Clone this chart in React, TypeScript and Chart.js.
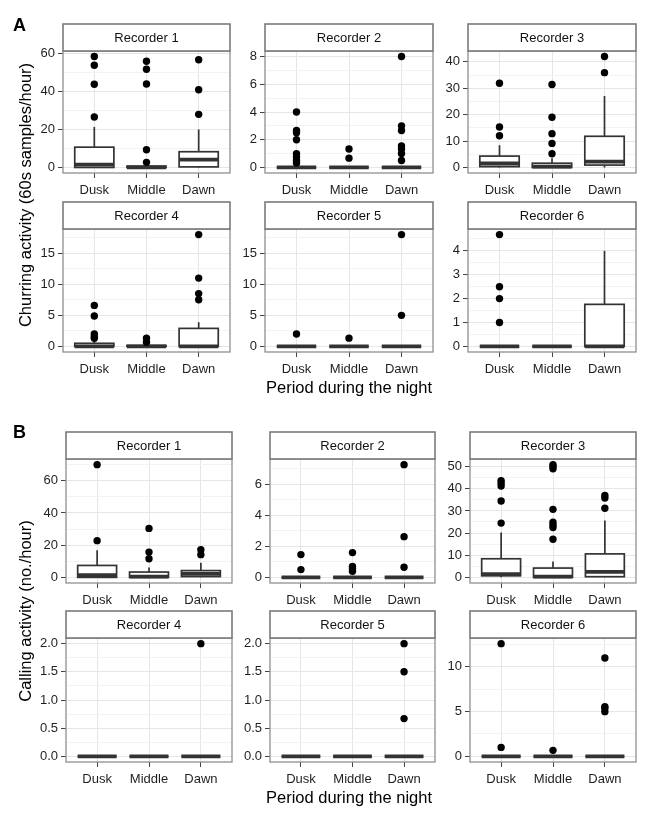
import React, { useEffect, useRef } from 'react';
import { Chart, registerables } from 'chart.js';

Chart.register(...registerables);

const FONT = "'Liberation Sans', Arial, Helvetica, sans-serif";

// ---------- categories ----------
const periods = ['Dusk', 'Middle', 'Dawn'];
const recorders = ['Recorder 1', 'Recorder 2', 'Recorder 3', 'Recorder 4', 'Recorder 5', 'Recorder 6'];

// ---------- A: churring activity (60s samples/hour) ----------
// per recorder: [Dusk, Middle, Dawn]
const churringWhiskerLow = [[0, 0, 0], [0, 0, 0], [0, 0, 0], [0, 0, 0], [0, 0, 0], [0, 0, 0]];
const churringQ1 = [[0, 0, 0.3], [0, 0, 0], [0.3, 0, 0.9], [0, 0, 0], [0, 0, 0], [0, 0, 0]];
const churringMedian = [[1.5, 0, 4.1], [0, 0, 0], [1.5, 0.3, 2.2], [0, 0, 0], [0, 0, 0], [0, 0, 0]];
const churringQ3 = [[10.7, 0.7, 8.3], [0, 0, 0], [4.3, 1.6, 11.8], [0.5, 0.15, 2.9], [0, 0, 0], [0, 0, 1.76]];
const churringWhiskerHigh = [[21.4, 1.5, 20], [0, 0, 0], [8.4, 3.5, 27.1], [1.0, 0.3, 3.9], [0, 0, 0], [0, 0, 4.0]];
const churringOutliers = [
  [[26.6, 43.9, 53.9, 58.5], [2.7, 9.3, 44, 51.8, 56], [28, 41, 56.8]],
  [[0.33, 0.5, 0.75, 1, 2, 2.5, 2.67, 4], [0.67, 1.33], [0.5, 1, 1.33, 1.56, 2.67, 3, 8]],
  [[12, 15.3, 31.9], [5.2, 9.1, 12.8, 19, 31.4], [35.9, 42]],
  [[1.3, 1.6, 2, 4.9, 6.6], [0.67, 1.33], [7.5, 8.5, 11, 18]],
  [[2], [1.33], [5, 18]],
  [[1, 2, 2.5, 4.68], [], []],
];
const churringTicks = [[0, 20, 40, 60], [0, 2, 4, 6, 8], [0, 10, 20, 30, 40], [0, 5, 10, 15], [0, 5, 10, 15], [0, 1, 2, 3, 4]];

// ---------- B: calling activity (no./hour) ----------
const callingWhiskerLow = [[0, 0, 0], [0, 0, 0], [0, 0, 0], [0, 0, 0], [0, 0, 0], [0, 0, 0]];
const callingQ1 = [[0, 0, 0.5], [0, 0, 0], [0.7, 0, 0.3], [0, 0, 0], [0, 0, 0], [0, 0, 0]];
const callingMedian = [[1.4, 0.4, 2.2], [0, 0, 0], [1.5, 0.3, 2.5], [0, 0, 0], [0, 0, 0], [0, 0, 0]];
const callingQ3 = [[7.4, 3.3, 4.2], [0, 0, 0], [8.4, 4.2, 10.6], [0, 0, 0], [0, 0, 0], [0, 0, 0]];
const callingWhiskerHigh = [[16.8, 6.2, 9], [0, 0, 0], [20.3, 7.2, 25.7], [0, 0, 0], [0, 0, 0], [0, 0, 0]];
const callingOutliers = [
  [[22.8, 70], [11.6, 15.7, 30.4], [14.1, 17.2]],
  [[0.5, 1.47], [0.39, 0.56, 0.71, 1.6], [0.65, 2.63, 7.28]],
  [[24.5, 34.5, 41.2, 42.5, 43.7], [17.2, 22.5, 23.6, 24.9, 30.7, 49, 50.1, 50.9], [31.2, 35.8, 37]],
  [[], [], [2]],
  [[], [], [0.67, 1.5, 2]],
  [[1, 12.6], [0.67], [5, 5.37, 5.56, 11]],
];
const callingTicks = [[0, 20, 40, 60], [0, 2, 4, 6], [0, 10, 20, 30, 40, 50], [0, 0.5, 1, 1.5, 2], [0, 0.5, 1, 1.5, 2], [0, 5, 10]];

// ---------- layout (pixels) ----------
const STRIP_H = 27;
const Y_AXIS_W = 44;
const X_AXIS_H = 26;
const RIGHT_PAD = 4;
const layoutA = { cols: [[63, 167], [265, 168], [468, 168]], rows: [[51, 122], [229, 123]] };
const layoutB = { cols: [[66, 166], [270, 165], [470, 166]], rows: [[459, 124], [638, 124]] };

type PanelProps = {
  left: number; top: number; width: number; height: number; title: string;
  wl: number[]; q1: number[]; med: number[]; q3: number[]; wh: number[];
  outliers: number[][]; ticks: number[];
};

function Panel(p: PanelProps) {
  const ref = useRef<HTMLCanvasElement>(null);
  useEffect(() => {
    const canvas = ref.current as HTMLCanvasElement;
    const allVals = [0, ...p.wh, ...p.wl, ...p.outliers.flat()];
    const dMax = Math.max(...allVals);
    const dMin = Math.min(...allVals);
    const span = dMax - dMin || 1;
    const lo = dMin - 0.05 * span;
    const hi = dMax + 0.05 * span;
    const step = p.ticks[1] - p.ticks[0];
    const minors: number[] = [];
    p.ticks.forEach((t) => { if (t + step / 2 <= hi) minors.push(t + step / 2); });
    if (p.ticks[0] - step / 2 >= lo) minors.push(p.ticks[0] - step / 2);
    const allTicks = [...p.ticks, ...minors].sort((a, b) => a - b);
    const isMajor = (v: number) => p.ticks.some((t) => Math.abs(t - v) < 1e-9);
    const decimals = p.ticks.some((t) => !Number.isInteger(t)) ? 1 : 0;

    const points: { x: number; y: number }[] = [];
    p.outliers.forEach((arr, i) => arr.forEach((v) => points.push({ x: i + 1, y: v })));

    const boxPlugin = {
      id: 'ggbox',
      beforeDatasetsDraw(chart: any) {
        const { ctx, chartArea: a, scales } = chart;
        const x = scales.x, y = scales.y;
        ctx.save();
        ctx.beginPath();
        ctx.rect(a.left, a.top, a.right - a.left, a.bottom - a.top);
        ctx.clip();
        ctx.strokeStyle = '#333333';
        for (let i = 0; i < 3; i++) {
          const cx = x.getPixelForValue(i + 1);
          const x0 = x.getPixelForValue(i + 1 - 0.375);
          const x1 = x.getPixelForValue(i + 1 + 0.375);
          const yq1 = y.getPixelForValue(p.q1[i]);
          const yq3 = y.getPixelForValue(p.q3[i]);
          const ywl = y.getPixelForValue(p.wl[i]);
          const ywh = y.getPixelForValue(p.wh[i]);
          const ym = y.getPixelForValue(p.med[i]);
          ctx.lineWidth = 1.7;
          ctx.beginPath();
          ctx.moveTo(cx, ywh); ctx.lineTo(cx, yq3);
          ctx.moveTo(cx, yq1); ctx.lineTo(cx, ywl);
          ctx.stroke();
          ctx.fillStyle = '#ffffff';
          ctx.fillRect(x0, yq3, x1 - x0, yq1 - yq3);
          ctx.strokeRect(x0, yq3, x1 - x0, yq1 - yq3);
          ctx.lineWidth = 3.8;
          ctx.beginPath();
          ctx.moveTo(x0, ym); ctx.lineTo(x1, ym);
          ctx.stroke();
        }
        ctx.restore();
      },
      afterDraw(chart: any) {
        const { ctx, chartArea: a } = chart;
        ctx.save();
        ctx.strokeStyle = '#8f8f8f';
        ctx.lineWidth = 1.3;
        ctx.strokeRect(a.left, a.top, a.right - a.left, a.bottom - a.top);
        // strip
        const st = a.top - STRIP_H;
        ctx.fillStyle = '#ffffff';
        ctx.fillRect(a.left, st, a.right - a.left, STRIP_H);
        ctx.strokeStyle = '#7a7a7a';
        ctx.lineWidth = 1.6;
        ctx.strokeRect(a.left, st, a.right - a.left, STRIP_H);
        ctx.fillStyle = '#111111';
        ctx.font = `13px ${FONT}`;
        ctx.textAlign = 'center';
        ctx.textBaseline = 'middle';
        ctx.fillText(p.title, (a.left + a.right) / 2, st + STRIP_H / 2 + 1);
        ctx.restore();
      },
    };

    const chart = new Chart(canvas, {
      type: 'scatter',
      data: {
        datasets: [{
          data: points,
          pointRadius: 3.7,
          pointHoverRadius: 3.7,
          backgroundColor: '#000000',
          borderWidth: 0,
        }],
      },
      options: {
        animation: false,
        responsive: false,
        maintainAspectRatio: false,
        devicePixelRatio: 1,
        events: [],
        layout: { padding: { top: STRIP_H + 1, left: 0, right: RIGHT_PAD, bottom: 0 } },
        plugins: { legend: { display: false }, tooltip: { enabled: false }, title: { display: false } },
        scales: {
          x: {
            type: 'linear',
            min: 0.4,
            max: 3.6,
            afterBuildTicks: (s: any) => { s.ticks = [1, 2, 3].map((v) => ({ value: v })); },
            afterFit: (s: any) => { s.height = X_AXIS_H; },
            grid: { color: '#e6e6e6', lineWidth: 1, tickColor: '#444444', tickLength: 5, drawTicks: true },
            border: { display: false },
            ticks: {
              autoSkip: false, maxRotation: 0, minRotation: 0, padding: 5,
              color: '#1f1f1f', font: { family: FONT, size: 13 },
              callback: (v: any) => periods[Math.round(Number(v)) - 1] ?? '',
            },
          },
          y: {
            type: 'linear',
            min: lo,
            max: hi,
            afterBuildTicks: (s: any) => { s.ticks = allTicks.map((v) => ({ value: v })); },
            afterFit: (s: any) => { s.width = Y_AXIS_W; },
            grid: {
              color: (c: any) => (c.tick && isMajor(c.tick.value) ? '#e6e6e6' : '#f3f3f3'),
              tickColor: (c: any) => (c.tick && isMajor(c.tick.value) ? '#444444' : 'rgba(0,0,0,0)'),
              lineWidth: 1, tickLength: 5, drawTicks: true,
            },
            border: { display: false },
            ticks: {
              autoSkip: false, padding: 3,
              color: '#1f1f1f', font: { family: FONT, size: 13 },
              callback: (v: any) => (isMajor(Number(v)) ? Number(v).toFixed(decimals) : ''),
            },
          },
        },
      } as any,
      plugins: [boxPlugin],
    });
    return () => chart.destroy();
  }, []);

  const cw = Y_AXIS_W + p.width + RIGHT_PAD;
  const ch = STRIP_H + 1 + p.height + X_AXIS_H;
  return (
    <canvas
      ref={ref}
      width={cw}
      height={ch}
      style={{ position: 'absolute', left: p.left - Y_AXIS_W, top: p.top - STRIP_H - 1, width: cw, height: ch, display: 'block' }}
    />
  );
}

function buildPanels(prefix: string, lay: any, wl: number[][], q1: number[][], med: number[][], q3: number[][], wh: number[][], out: number[][][], ticks: number[][]) {
  return recorders.map((name, r) => {
    const [cl, cw] = lay.cols[r % 3];
    const [rt, rh] = lay.rows[Math.floor(r / 3)];
    return (
      <Panel
        key={prefix + r}
        left={cl} top={rt} width={cw} height={rh} title={name}
        wl={wl[r]} q1={q1[r]} med={med[r]} q3={q3[r]} wh={wh[r]}
        outliers={out[r]} ticks={ticks[r]}
      />
    );
  });
}

const textBase: React.CSSProperties = { position: 'absolute', fontFamily: FONT, color: '#000', whiteSpace: 'nowrap' };

export default function App() {
  return (
    <div style={{ position: 'absolute', left: 0, top: 0, width: 660, height: 820, background: '#ffffff', overflow: 'hidden' }}>
      {buildPanels('a', layoutA, churringWhiskerLow, churringQ1, churringMedian, churringQ3, churringWhiskerHigh, churringOutliers, churringTicks)}
      {buildPanels('b', layoutB, callingWhiskerLow, callingQ1, callingMedian, callingQ3, callingWhiskerHigh, callingOutliers, callingTicks)}

      <div style={{ ...textBase, left: 13, top: 16, fontSize: 18, lineHeight: '18px', fontWeight: 'bold' }}>A</div>
      <div style={{ ...textBase, left: 13, top: 423, fontSize: 18, lineHeight: '18px', fontWeight: 'bold' }}>B</div>

      <div style={{ ...textBase, left: 349, top: 387, fontSize: 16.5, lineHeight: '17px', transform: 'translate(-50%, -50%)' }}>Period during the night</div>
      <div style={{ ...textBase, left: 349, top: 797, fontSize: 16.5, lineHeight: '17px', transform: 'translate(-50%, -50%)' }}>Period during the night</div>

      <div style={{ ...textBase, left: 25, top: 195, fontSize: 16.5, lineHeight: '17px', transform: 'translate(-50%, -50%) rotate(-90deg)' }}>Churring activity (60s samples/hour)</div>
      <div style={{ ...textBase, left: 25, top: 611, fontSize: 16.5, lineHeight: '17px', transform: 'translate(-50%, -50%) rotate(-90deg)' }}>Calling activity (no./hour)</div>
    </div>
  );
}
